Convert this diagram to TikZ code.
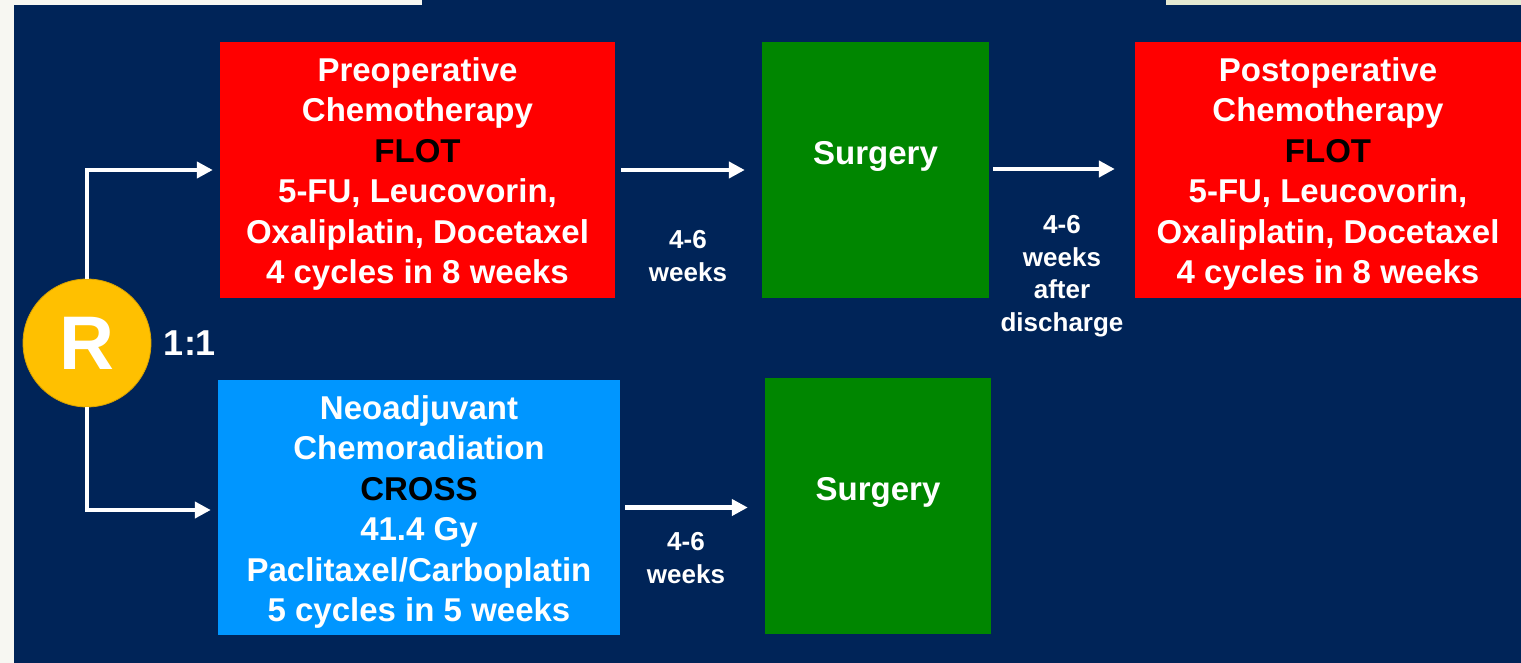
\documentclass[tikz,border=0pt]{standalone}
\usepackage{fontspec}
\setmainfont{Liberation Sans}
\usetikzlibrary{arrows.meta}
\definecolor{navy}{RGB}{0,36,88}
\definecolor{boxred}{RGB}{255,0,0}
\definecolor{boxgreen}{RGB}{0,134,0}
\definecolor{boxblue}{RGB}{0,150,255}
\definecolor{ryellow}{RGB}{255,192,0}
\definecolor{stripwhite}{RGB}{247,247,242}
\definecolor{stripcream}{RGB}{228,233,210}
\tikzset{
  box/.style={draw=none, inner sep=0pt},
  boxtext/.style={inner sep=0pt, align=center, text=white,
    font=\fontsize{33}{40.5}\selectfont\bfseries},
  lbl/.style={align=center, text=white, inner sep=0pt,
    font=\fontsize{26}{32.5}\selectfont\bfseries},
  arr/.style={draw=white, line width=4.5pt,
    -{Triangle[length=16pt,width=16pt]}},
}
\begin{document}
\begin{tikzpicture}[x=1pt,y=-1pt]
\useasboundingbox (0,0) rectangle (1521,663);
% background
\fill[stripwhite] (0,0) rectangle (1521,663);
\fill[navy] (14,0) rectangle (1521,663);
\fill[stripwhite] (0,0) rectangle (422,5);
\fill[stripcream] (1166,0) rectangle (1521,5);
% boxes
\node[box, fill=boxred, minimum width=395pt, minimum height=256pt] (red1) at (417.5,170) {};
\node[boxtext] (red1t) at ([yshift=-4pt]red1.center)
  {Preoperative\\Chemotherapy\\\textcolor{black}{FLOT}\\5-FU, Leucovorin,\\Oxaliplatin, Docetaxel\\4 cycles in 8 weeks};
\node[box, fill=boxgreen, minimum width=227pt, minimum height=256pt] (green1) at (875.5,170) {};
\node[boxtext] (surg1) at (875.5,156) {Surgery};
\node[box, fill=boxred, minimum width=386pt, minimum height=256pt] (red2) at (1328,170) {};
\node[boxtext] (red2t) at ([yshift=-4pt]red2.center)
  {Postoperative\\Chemotherapy\\\textcolor{black}{FLOT}\\5-FU, Leucovorin,\\Oxaliplatin, Docetaxel\\4 cycles in 8 weeks};
\node[box, fill=boxblue, minimum width=402pt, minimum height=255pt] (blue) at (419,507.5) {};
\node[boxtext] (bluet) at ([yshift=-4.5pt]blue.center)
  {Neoadjuvant\\Chemoradiation\\\textcolor{black}{CROSS}\\41.4 Gy\\Paclitaxel/Carboplatin\\5 cycles in 5 weeks};
\node[box, fill=boxgreen, minimum width=226pt, minimum height=256pt] (green2) at (878,506) {};
\node[boxtext] (surg2) at (878,492) {Surgery};
% randomisation
\node[circle, fill=ryellow, draw=ryellow!85!black, line width=0.8pt, minimum size=128pt, inner sep=0pt,
  text=white, font=\fontsize{76}{76}\selectfont\bfseries] (R) at (87,343) {R};
\node[text=white, inner sep=0pt, font=\fontsize{36}{36}\selectfont\bfseries] (ratio) at (190,343) {1:1};
% connectors
\draw[arr] (R.north) |- ([xshift=-7pt]red1.west);
\draw[arr] (R.south) |- ([xshift=-7pt,yshift=-2.5pt]blue.west);
\draw[arr] ([xshift=6pt]red1.east) -- ([xshift=-17pt]green1.west);
\draw[arr] ([xshift=4pt,yshift=1pt]green1.east) -- ([xshift=-20pt,yshift=1pt]red2.west);
\draw[arr] ([xshift=5pt]blue.east) -- ([xshift=-17pt,yshift=-1.5pt]green2.west);
% labels
\node[lbl] (l1) at (688,256) {4-6\\weeks};
\node[lbl] (l2) at (1062,276) {4-6\\weeks\\after\\discharge};
\node[lbl] (l3) at (686,558) {4-6\\weeks};
\end{tikzpicture}
\end{document}
